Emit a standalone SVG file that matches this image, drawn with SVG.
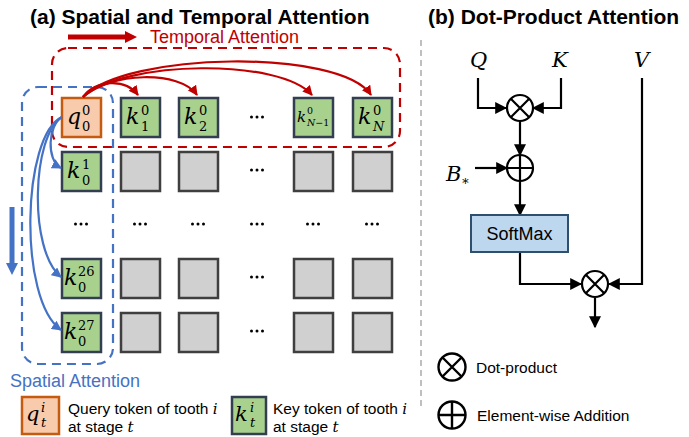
<svg xmlns="http://www.w3.org/2000/svg" width="689" height="437" viewBox="0 0 689 437">
<defs>
<style>
.title{font-family:"Liberation Sans",Arial,sans-serif;font-weight:bold;font-size:21px;fill:#000}
.lbl{font-family:"Liberation Sans",Arial,sans-serif;font-size:15.5px;fill:#000}
.m{font-family:"DejaVu Serif","Liberation Serif",serif;font-style:italic;fill:#000}
.d{font-family:"DejaVu Serif","Liberation Serif",serif;fill:#000}
.q{fill:#f8cbad;stroke:#c55a11;stroke-width:2.5}
.k{fill:#a9d18e;stroke:#333f50;stroke-width:2.5}
.g{fill:#d0d0d0;stroke:#3f3f3f;stroke-width:2.5}
.red{fill:none;stroke:#c00000;stroke-width:2.2}
.blue{fill:none;stroke:#4472c4;stroke-width:2.2}
.blk{fill:none;stroke:#000;stroke-width:2.2}
</style>
<marker id="ar" viewBox="0 0 10 10" refX="9" refY="5" markerWidth="10" markerHeight="10" markerUnits="userSpaceOnUse" orient="auto"><path d="M0,0 L10,5 L0,10 z" fill="#c00000"/></marker>
<marker id="ab" viewBox="0 0 10 10" refX="9" refY="5" markerWidth="10" markerHeight="10" markerUnits="userSpaceOnUse" orient="auto"><path d="M0,0 L10,5 L0,10 z" fill="#4472c4"/></marker>
<marker id="ak" viewBox="0 0 10 10" refX="9" refY="5" markerWidth="12" markerHeight="12" markerUnits="userSpaceOnUse" orient="auto"><path d="M0,0 L10,5 L0,10 z" fill="#000"/></marker>
<g id="dots3"><circle cx="-5.5" cy="0" r="1.5"/><circle cx="0" cy="0" r="1.5"/><circle cx="5.5" cy="0" r="1.5"/></g>
</defs>

<!-- Titles -->
<text class="title" x="30" y="24">(a) Spatial and Temporal Attention</text>
<text class="title" x="428" y="24">(b) Dot-Product Attention</text>

<!-- separator -->
<line x1="421" y1="40" x2="421" y2="410" stroke="#bfbfbf" stroke-width="2" stroke-dasharray="6,4"/>

<!-- Temporal attention label and arrow -->
<polygon points="68,34.5 125,34.5 125,31 137,37 125,43 125,39.5 68,39.5" fill="#c00000"/>
<text x="150" y="43" font-family="Liberation Sans,Arial,sans-serif" font-size="18" fill="#c00000">Temporal Attention</text>

<!-- Spatial attention arrow and label -->
<polygon points="9.5,207 14.5,207 14.5,263 18,263 12,275 6,263 9.5,263" fill="#4472c4"/>
<text x="10" y="387" font-family="Liberation Sans,Arial,sans-serif" font-size="18" fill="#4472c4">Spatial Attention</text>

<!-- dashed regions -->
<rect id="temporal-region" x="52" y="48" width="348" height="99" rx="16" fill="none" stroke="#c00000" stroke-width="2.2" stroke-dasharray="9,6"/>
<rect id="spatial-region" x="22" y="87" width="91" height="277" rx="16" fill="none" stroke="#4472c4" stroke-width="2.2" stroke-dasharray="9,6"/>

<!-- Row 0 -->
<g id="q00"><rect class="q" x="62" y="98" width="39" height="39"/>
<text class="m" x="67" y="124" font-size="22">q</text><text class="d" x="82" y="115" font-size="13">0</text><text class="d" x="82" y="131" font-size="13">0</text></g>
<g id="k10"><rect class="k" x="121" y="98" width="39" height="39"/>
<text class="m" x="126" y="124" font-size="22">k</text><text class="d" x="141" y="115" font-size="13">0</text><text class="d" x="141" y="131" font-size="13">1</text></g>
<g id="k20"><rect class="k" x="179" y="98" width="39" height="39"/>
<text class="m" x="184" y="124" font-size="22">k</text><text class="d" x="199" y="115" font-size="13">0</text><text class="d" x="199" y="131" font-size="13">2</text></g>
<g id="kN1"><rect class="k" x="294" y="98" width="39" height="39"/>
<text class="m" x="297" y="122" font-size="15">k</text><text class="d" x="307" y="114" font-size="9.5">0</text><text class="m" x="307" y="126" font-size="9.5">N<tspan font-style="normal">−1</tspan></text></g>
<g id="kN"><rect class="k" x="353" y="98" width="39" height="39"/>
<text class="m" x="358" y="124" font-size="22">k</text><text class="d" x="373" y="115" font-size="13">0</text><text class="m" x="373" y="131" font-size="13">N</text></g>
<use href="#dots3" x="257" y="117"/>

<!-- Row 1 -->
<g id="k01"><rect class="k" x="62" y="152" width="39" height="39"/>
<text class="m" x="67" y="178" font-size="22">k</text><text class="d" x="82" y="169" font-size="13">1</text><text class="d" x="82" y="185" font-size="13">0</text></g>
<rect class="g" x="121" y="152" width="39" height="39"/>
<rect class="g" x="179" y="152" width="39" height="39"/>
<rect class="g" x="294" y="152" width="39" height="39"/>
<rect class="g" x="353" y="152" width="39" height="39"/>
<use href="#dots3" x="257" y="170"/>

<!-- dots row -->
<use href="#dots3" x="81" y="224"/>
<use href="#dots3" x="140" y="224"/>
<use href="#dots3" x="198" y="224"/>
<use href="#dots3" x="257" y="224"/>
<use href="#dots3" x="313" y="224"/>
<use href="#dots3" x="372" y="224"/>

<!-- Row 26 -->
<g id="k026"><rect class="k" x="62" y="259" width="39" height="39"/>
<text class="m" x="64" y="285" font-size="22">k</text><text class="d" x="78" y="276" font-size="13">26</text><text class="d" x="78" y="292" font-size="13">0</text></g>
<rect class="g" x="121" y="259" width="39" height="39"/>
<rect class="g" x="179" y="259" width="39" height="39"/>
<rect class="g" x="294" y="259" width="39" height="39"/>
<rect class="g" x="353" y="259" width="39" height="39"/>
<use href="#dots3" x="257" y="277"/>

<!-- Row 27 -->
<g id="k027"><rect class="k" x="62" y="313" width="39" height="39"/>
<text class="m" x="64" y="339" font-size="22">k</text><text class="d" x="78" y="330" font-size="13">27</text><text class="d" x="78" y="346" font-size="13">0</text></g>
<rect class="g" x="121" y="313" width="39" height="39"/>
<rect class="g" x="179" y="313" width="39" height="39"/>
<rect class="g" x="294" y="313" width="39" height="39"/>
<rect class="g" x="353" y="313" width="39" height="39"/>
<use href="#dots3" x="257" y="331"/>

<!-- connectors -->
<g id="connectors">
<path class="red" marker-end="url(#ar)" d="M83,97 C95,80 125,78 138,95"/>
<path class="red" marker-end="url(#ar)" d="M83,97 C110,72 180,70 197,95"/>
<path class="red" marker-end="url(#ar)" d="M83,97 C125,60 280,58 312,95"/>
<path class="red" marker-end="url(#ar)" d="M83,97 C125,52 340,48 371,95"/>
<path class="blue" marker-end="url(#ab)" d="M62,117 C48,125 46,160 61,168"/>
<path class="blue" marker-end="url(#ab)" d="M62,117 C32,135 28,250 61,277"/>
<path class="blue" marker-end="url(#ab)" d="M62,117 C22,135 18,300 61,330"/>

<!-- right panel -->
<path class="blk" marker-end="url(#ak)" d="M478,78 V108 H506"/>
<path class="blk" marker-end="url(#ak)" d="M561,78 V108 H533"/>
<path class="blk" marker-end="url(#ak)" d="M520,121 V155"/>
<path class="blk" marker-end="url(#ak)" d="M475,168 H507"/>
<path class="blk" marker-end="url(#ak)" d="M520,181 V215"/>
<path class="blk" marker-end="url(#ak)" d="M520,252 V284 H581"/>
<path class="blk" marker-end="url(#ak)" d="M642,78 V284 H609"/>
<path class="blk" marker-end="url(#ak)" d="M595,298 V327"/>
</g>

<text class="m" x="470" y="67" font-size="21">Q</text>
<text class="m" x="552" y="67" font-size="21">K</text>
<text class="m" x="634" y="67" font-size="21">V</text>
<text class="m" x="446" y="181" font-size="21">B</text><text class="d" x="461" y="185" font-size="13">∗</text>

<g id="dot1"><circle cx="520" cy="108" r="13" fill="#fff" stroke="#000" stroke-width="2.2"/><path d="M510.8,98.8 L529.2,117.2 M529.2,98.8 L510.8,117.2" stroke="#000" stroke-width="2.2"/></g>
<g id="add1"><circle cx="520" cy="168" r="13" fill="#fff" stroke="#000" stroke-width="2.2"/><path d="M507,168 H533 M520,155 V181" stroke="#000" stroke-width="2.2"/></g>
<g id="softmax"><rect x="471" y="215" width="97" height="37" fill="#bdd7ee" stroke="#2f4f6f" stroke-width="2"/>
<text x="519.5" y="240" text-anchor="middle" font-family="Liberation Sans,Arial,sans-serif" font-size="18" fill="#000">SoftMax</text></g>
<g id="dot2"><circle cx="595" cy="284" r="13" fill="#fff" stroke="#000" stroke-width="2.2"/><path d="M585.8,274.8 L604.2,293.2 M604.2,274.8 L585.8,293.2" stroke="#000" stroke-width="2.2"/></g>

<!-- right legend -->
<g id="leg-dot"><circle cx="452" cy="367" r="13.5" fill="#fff" stroke="#000" stroke-width="2.4"/><path d="M442.5,357.5 L461.5,376.5 M461.5,357.5 L442.5,376.5" stroke="#000" stroke-width="2.4"/>
<text class="lbl" x="476" y="373">Dot-product</text></g>
<g id="leg-add"><circle cx="452" cy="415" r="13.5" fill="#fff" stroke="#000" stroke-width="2.4"/><path d="M438.5,415 H465.5 M452,401.5 V428.5" stroke="#000" stroke-width="2.4"/>
<text class="lbl" x="477" y="421">Element-wise Addition</text></g>

<!-- left legend -->
<g id="leg-q"><rect class="q" x="22" y="397" width="37" height="37"/>
<text class="m" x="26" y="421" font-size="21">q</text><text class="m" x="41" y="412" font-size="13">i</text><text class="m" x="41" y="427" font-size="13">t</text>
<text class="lbl" x="68" y="414">Query token of tooth <tspan class="m" font-size="15">i</tspan></text>
<text class="lbl" x="68" y="432">at stage <tspan class="m" font-size="15">t</tspan></text></g>
<g id="leg-k"><rect class="k" x="232" y="397" width="34" height="37"/>
<text class="m" x="235" y="421" font-size="21">k</text><text class="m" x="250" y="412" font-size="13">i</text><text class="m" x="250" y="427" font-size="13">t</text>
<text class="lbl" x="273" y="414">Key token of tooth <tspan class="m" font-size="15">i</tspan></text>
<text class="lbl" x="273" y="432">at stage <tspan class="m" font-size="15">t</tspan></text></g>
</svg>
